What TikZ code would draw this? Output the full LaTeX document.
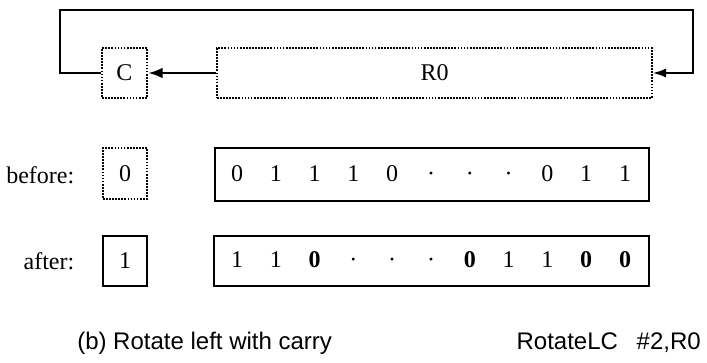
\documentclass[tikz,border=0pt]{standalone}
\usepackage{fontspec}
\setmainfont{Liberation Serif}
\setsansfont{Liberation Sans}
\usetikzlibrary{arrows.meta}
\begin{document}
\begin{tikzpicture}[x=0.75pt,y=-0.75pt,
  font=\fontsize{18}{20}\selectfont,
  dotbox/.style={draw,densely dotted,line width=1.3pt,inner sep=0pt},
  solidbox/.style={draw,line width=1.3pt,inner sep=0pt},
  regbox/.style={draw,line width=1.9pt,inner sep=0pt},
  bit/.style={inner sep=0pt,anchor=base},
  loopline/.style={line width=1.4pt},
  head/.style={-{Latex[length=10pt,width=7pt]}}]
\useasboundingbox (0,0) rectangle (707,362);

% carry and register of the operation
\node[dotbox,minimum width=33.75pt,minimum height=37.5pt] (C) at (124.5,73) {C};
\node[dotbox,minimum width=326.25pt,minimum height=37.5pt] (R0) at (434.5,73) {R0};

% top-bit path into the carry
\draw[line width=2.2pt,-{Latex[length=11pt,width=8pt]}] (R0.west) -- (C.east);

% carry fed back into the low end of the register
\coordinate (tl) at (60,10);
\coordinate (tr) at (693,10);
\draw[loopline,head] (C.west) -- (C.west -| tl) |- (tr) |- (R0.east);

% before
\node[anchor=east] (lbefore) at (79,175) {before:};
\node[dotbox,minimum width=33pt,minimum height=38.25pt] (cb) at (125,173.5) {0};
\node[regbox,minimum width=325.5pt,minimum height=39.75pt] (rb) at (432,174.5) {};
\foreach \v [count=\i] in {0,1,1,1,0,\textperiodcentered,\textperiodcentered,\textperiodcentered,0,1,1}
  \node[bit] (b\i) at ({237+38.8*(\i-1)},181) {\v};

% after
\node[anchor=east] (lafter) at (79,261) {after:};
\node[solidbox,minimum width=33pt,minimum height=37.5pt] (ca) at (125,261) {1};
\node[regbox,minimum width=326.25pt,minimum height=37.5pt] (ra) at (431.5,261) {};
\foreach \v [count=\i] in {1,1,\textbf{0},\textperiodcentered,\textperiodcentered,\textperiodcentered,\textbf{0},1,1,\textbf{0},\textbf{0}}
  \node[bit] (a\i) at ({237+38.8*(\i-1)},267) {\v};

% captions
\node[anchor=base west,inner sep=0pt,font=\sffamily\fontsize{18}{20}\selectfont] (cap) at (77,349) {(b) Rotate left with carry};
\node[anchor=base east,inner sep=0pt,font=\sffamily\fontsize{18}{20}\selectfont] (ins) at (701,349) {RotateLC\hspace{14pt}\#2,R0};
\end{tikzpicture}
\end{document}
